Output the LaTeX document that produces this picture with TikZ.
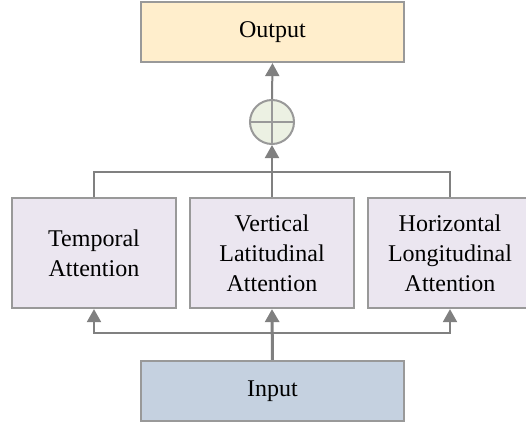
\documentclass[tikz,border=0pt]{standalone}
\usepackage{fontspec}
\setmainfont{Liberation Serif}
\usetikzlibrary{arrows.meta}

\definecolor{outfill}{HTML}{FFEECC}
\definecolor{attfill}{HTML}{EBE6F0}
\definecolor{inpfill}{HTML}{C5D1E0}
\definecolor{sumfill}{HTML}{ECF1E3}
\definecolor{edgegray}{HTML}{999999}
\definecolor{linegray}{HTML}{808080}

\tikzset{
  box/.style={draw=edgegray, line width=1.1pt, align=center,
    font=\fontsize{12}{15}\selectfont},
  attbox/.style={box, fill=attfill, minimum width=82pt, minimum height=55pt},
  iobox/.style={box, minimum width=131.5pt, minimum height=30pt},
  conn/.style={draw=linegray, line width=1pt},
  arr/.style={conn, -{Triangle[width=7pt,length=6.5pt]}}
}

\begin{document}
\begin{tikzpicture}[x=0.5pt, y=-0.5pt]

% page frame
\useasboundingbox (0,0) rectangle (526,423);

% Output and input blocks
\node[iobox, fill=outfill] (out) at (272.5,32) {Output};
\node[iobox, fill=inpfill] (inp) at (272.5,391) {Input};

% The three attention branches
\node[attbox] (tem) at (94,253) {Temporal\\Attention};
\node[attbox] (ver) at (272,253) {Vertical\\Latitudinal\\Attention};
\node[attbox] (hor) at (450,253) {Horizontal\\Longitudinal\\Attention};

% Sum node
\node[circle, draw=edgegray, line width=1pt, fill=sumfill,
  minimum size=22pt, inner sep=0pt] (sum) at (272,122) {};
\draw[edgegray, line width=1.2pt] (sum.north) -- (sum.south)
  (sum.west) -- (sum.east);

% Junctions
\coordinate (join) at (272,172);
\coordinate (split) at (272,333);

% Branches merge into the sum
\draw[conn] (tem.north) |- (join) -| (hor.north);
\draw[arr] (ver.north) -- (sum.south);
\draw[arr] (sum.north) -- (out.south);

% Input fans out to the branches
\draw[arr] (split) -| (tem.south);
\draw[arr] (split) -| (hor.south);
\draw[arr, line width=1.5pt] (inp.north) -- (ver.south);

\end{tikzpicture}
\end{document}
